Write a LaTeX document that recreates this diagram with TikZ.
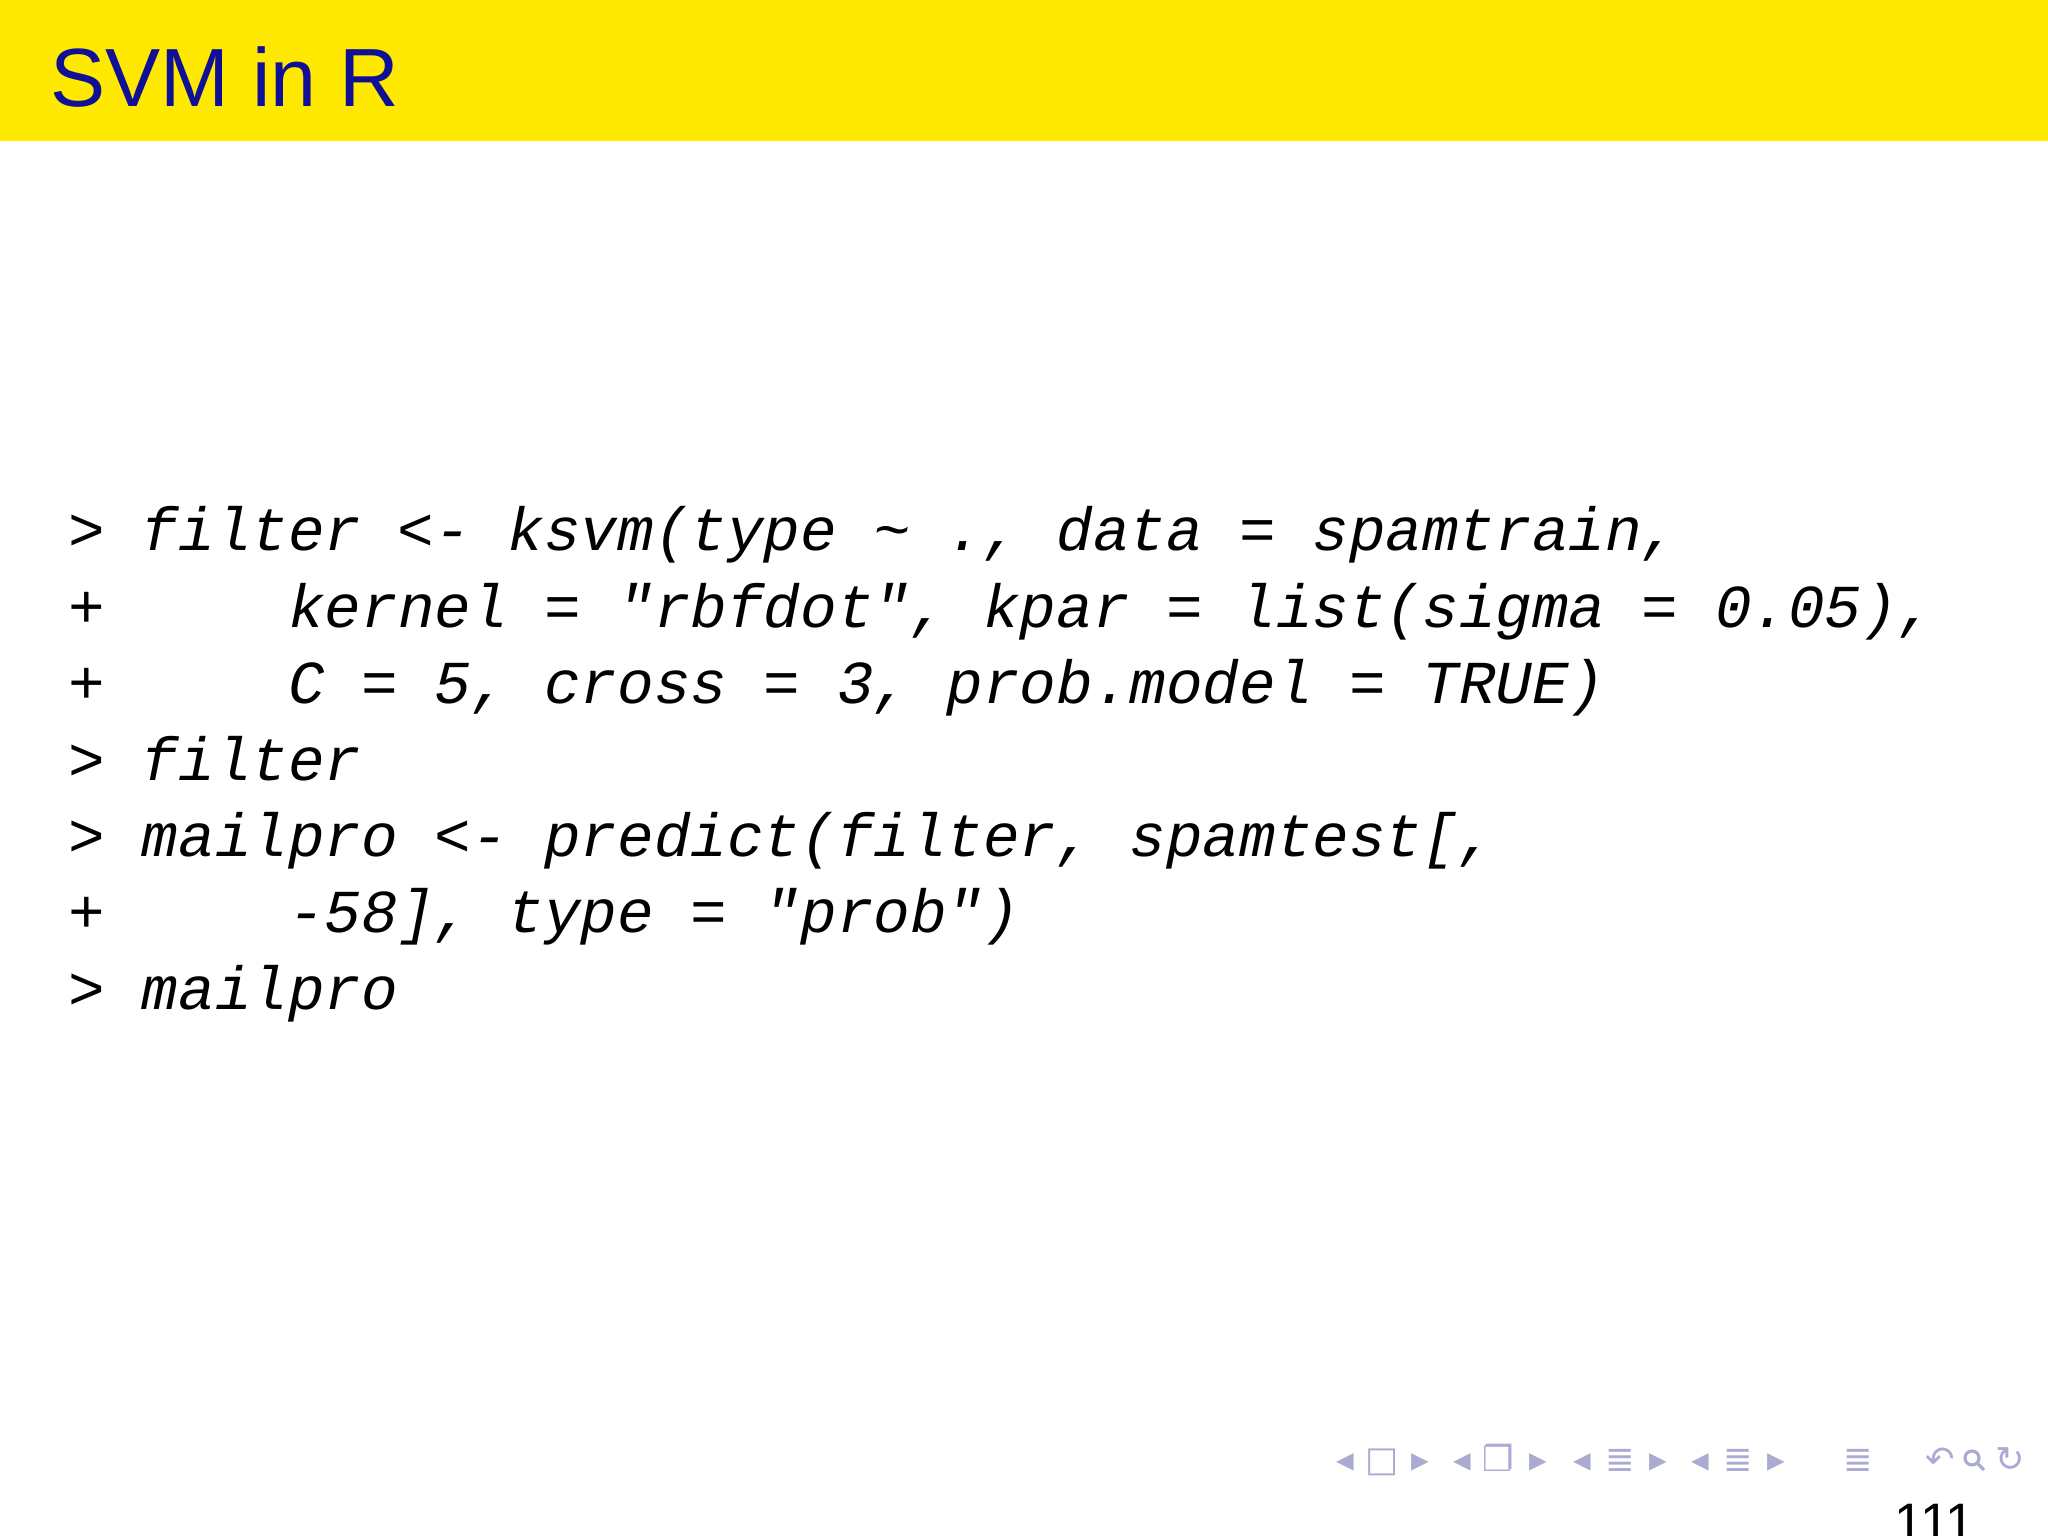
\documentclass[tikz,border=0pt]{standalone}
\usepackage{fontspec}
\setmainfont{Liberation Sans}
\newfontfamily\codefont{Liberation Mono}
\newfontfamily\symfont{DejaVu Sans}
\definecolor{titleyellow}{RGB}{255,233,0}
\definecolor{titleblue}{RGB}{16,16,150}
\definecolor{navgrey}{RGB}{170,170,210}
\begin{document}
\begin{tikzpicture}[x=1cm,y=1cm,
  code/.style={anchor=base west,inner sep=0pt,font=\codefont\itshape\fontsize{17.35}{20}\selectfont},
  nav/.style={anchor=base,inner sep=0pt,text=navgrey,font=\symfont\fontsize{10}{12}\selectfont}]
\useasboundingbox (0,0) rectangle (20.48,15.36);
\fill[titleyellow] (0,13.95) rectangle (20.48,15.36);
\node[anchor=base west,inner sep=0pt,text=titleblue,font=\fontsize{23.5}{28}\selectfont] (title) at (0.50,14.29) {SVM in R};
\def\dy{0.764}
\node[code] (l1) at (0.68,9.85) {>~filter~<-~ksvm(type~\textasciitilde~.,~data~=~spamtrain,};
\node[code] (l2) at (0.68,9.85-\dy) {+~~~~~kernel~=~"rbfdot",~kpar~=~list(sigma~=~0.05),};
\node[code] (l3) at (0.68,9.85-2*\dy) {+~~~~~C~=~5,~cross~=~3,~prob.model~=~TRUE)};
\node[code] (l4) at (0.68,9.85-3*\dy) {>~filter};
\node[code] (l5) at (0.68,9.85-4*\dy) {>~mailpro~<-~predict(filter,~spamtest[,};
\node[code] (l6) at (0.68,9.85-5*\dy) {+~~~~~-58],~type~=~"prob")};
\node[code] (l7) at (0.68,9.85-6*\dy) {>~mailpro};
% navigation symbols
\node[nav] (n1) at (13.45,0.64) {◂};
\node[nav] (n2) at (13.82,0.64) {□};
\node[nav] (n3) at (14.20,0.64) {▸};
\node[nav] (n4) at (14.62,0.64) {◂};
\node[nav] (n5) at (14.98,0.64) {❐};
\node[nav] (n6) at (15.38,0.64) {▸};
\node[nav] (n7) at (15.82,0.64) {◂};
\node[nav] (n8) at (16.20,0.64) {≣};
\node[nav] (n9) at (16.58,0.64) {▸};
\node[nav] (n10) at (17.00,0.64) {◂};
\node[nav] (n11) at (17.38,0.64) {≣};
\node[nav] (n12) at (17.76,0.64) {▸};
\node[nav] (n13) at (18.58,0.64) {≣};
\node[nav] (n14) at (19.40,0.64) {↶};
\draw[navgrey,line width=0.9pt] (19.72,0.78) circle (0.07) (19.77,0.73) -- (19.84,0.66);
\node[nav] (n16) at (20.10,0.64) {↻};
\node[anchor=base west,inner sep=0pt,font=\fontsize{15}{18}\selectfont] (page) at (18.94,-0.05) {111};
\end{tikzpicture}
\end{document}
